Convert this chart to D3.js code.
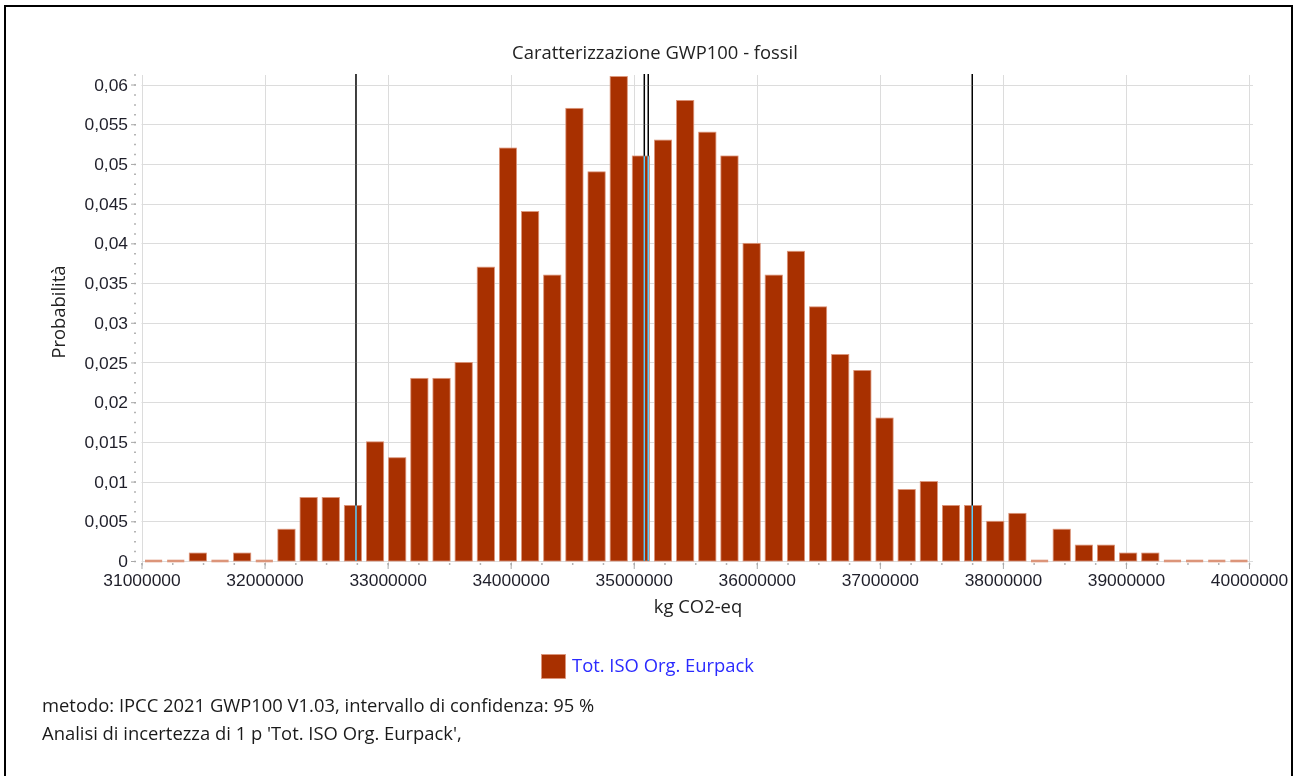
<!DOCTYPE html>
<html>
<head>
<meta charset="utf-8">
<script src="https://cdn.jsdelivr.net/npm/d3@7"></script>
<style>
  html, body { margin: 0; padding: 0; background: #fff; }
  svg { display: block; font-family: "Open Sans", "Noto Sans", sans-serif; }
  .tick text { fill: #1f1f2a; }
</style>
</head>
<body>
<svg id="chart" width="1302" height="776"></svg>
<script>
// Histogram of the Monte Carlo results: 50 classes of 180 000 kg from 31 000 000 kg
const classStart = 31000000;
const classWidth = 180000;
const probabilities = [
  0, 0, 0.001, 0, 0.001, 0, 0.004, 0.008, 0.008, 0.007,
  0.015, 0.013, 0.023, 0.023, 0.025, 0.037, 0.052, 0.044, 0.036, 0.057,
  0.049, 0.061, 0.051, 0.053, 0.058, 0.054, 0.051, 0.040, 0.036, 0.039,
  0.032, 0.026, 0.024, 0.018, 0.009, 0.010, 0.007, 0.007, 0.005, 0.006,
  0, 0.004, 0.002, 0.002, 0.001, 0.001, 0, 0, 0, 0
];
// 2.5 % bound, mean, median, 97.5 % bound
const markerValues = [32743000, 35086000, 35118000, 37751000];

const xTickValues = d3.range(31000000, 40000001, 1000000);
const xMinorValues = d3.range(31000000, 40000001, 250000);
const yTickValues = d3.range(0, 0.06001, 0.005);
const yMinorValues = d3.range(0, 0.06126, 0.00125);

const titleText = "Caratterizzazione GWP100 - fossil";
const xTitle = "kg CO2-eq";
const yTitle = "Probabilità";
const seriesName = "Tot. ISO Org. Eurpack";
const notes = [
  "metodo: IPCC 2021 GWP100 V1.03, intervallo di confidenza: 95 %",
  "Analisi di incertezza di 1 p 'Tot. ISO Org. Eurpack',"
];

const barColor = "#a83000";
const barEdge = "#dc957a";
const gridColor = "#dcdcdc";
const tickColor = "#a8a8a8";
const textSize = 18.4;

const svg = d3.select("#chart");
svg.append("rect").attr("width", 1302).attr("height", 776).attr("fill", "#fff");

// frame
svg.append("rect")
  .attr("x", 5).attr("y", 6).attr("width", 1287).attr("height", 790)
  .attr("fill", "none").attr("stroke", "#000").attr("stroke-width", 2);

const x = d3.scaleLinear().domain([31000000, 40000000]).range([141.5, 1249]);
const y = d3.scaleLinear().domain([0, 0.0612]).range([561, 75]);

const comma = d3.formatLocale({ decimal: ",", thousands: ".", grouping: [3], currency: ["", " €"] });
const yFmt = comma.format("~g");
const xFmt = d3.format("d");

// grid
const grid = svg.append("g");
grid.selectAll("line.h").data(yTickValues).join("line")
  .attr("x1", 141.5).attr("x2", 1253)
  .attr("y1", d => Math.round(y(d)) + 0.5).attr("y2", d => Math.round(y(d)) + 0.5)
  .attr("stroke", gridColor);
grid.selectAll("line.v").data(xTickValues).join("line")
  .attr("x1", d => Math.round(x(d)) + 0.5).attr("x2", d => Math.round(x(d)) + 0.5)
  .attr("y1", 75).attr("y2", 566)
  .attr("stroke", gridColor);

// minor ticks
const yMinor = svg.append("g").attr("transform", "translate(136,0)")
  .call(d3.axisLeft(y).tickValues(yMinorValues).tickSize(2).tickFormat(""));
const xMinor = svg.append("g").attr("transform", "translate(0,563)")
  .call(d3.axisBottom(x).tickValues(xMinorValues).tickSize(2).tickFormat(""));
[yMinor, xMinor].forEach(g => {
  g.select(".domain").remove();
  g.selectAll(".tick line").attr("stroke", "#b4b4b4").attr("stroke-width", 1.5);
});

// major axes
const yAxis = svg.append("g").attr("transform", "translate(136,0)")
  .call(d3.axisLeft(y).tickValues(yTickValues).tickFormat(yFmt).tickSize(5).tickPadding(3));
const xAxis = svg.append("g").attr("transform", "translate(0,563)")
  .call(d3.axisBottom(x).tickValues(xTickValues).tickFormat(xFmt).tickSize(6).tickPadding(5));
[yAxis, xAxis].forEach(g => {
  g.select(".domain").remove();
  g.selectAll(".tick line").attr("stroke", tickColor);
  g.selectAll(".tick text").attr("font-size", 17.4).attr("font-family", "Liberation Sans, Arial, sans-serif");
});

// bars
const bars = probabilities.map((p, i) => ({
  p,
  x0: classStart + i * classWidth,
  x1: classStart + (i + 1) * classWidth
}));
svg.append("g").selectAll("rect").data(bars.filter(d => d.p > 0)).join("rect")
  .attr("x", d => x(d.x0) + 3.5)
  .attr("width", d => x(d.x1) - x(d.x0) - 5)
  .attr("y", d => y(d.p))
  .attr("height", d => y(0) - y(d.p))
  .attr("fill", barColor)
  .attr("stroke", barEdge).attr("stroke-width", 0.8);
svg.append("g").selectAll("rect").data(bars.filter(d => d.p === 0)).join("rect")
  .attr("x", d => x(d.x0) + 3.5)
  .attr("width", d => x(d.x1) - x(d.x0) - 5)
  .attr("y", y(0) - 1.3)
  .attr("height", 2.6)
  .attr("fill", barEdge);

// statistic markers, drawn inverted over whatever lies beneath
svg.append("g").style("mix-blend-mode", "difference")
  .selectAll("line").data(markerValues).join("line")
  .attr("x1", d => x(d)).attr("x2", d => x(d))
  .attr("y1", 74).attr("y2", y(0))
  .attr("stroke", "#fff").attr("stroke-width", 1.5)
  .style("mix-blend-mode", "difference");

// titles
svg.append("text").attr("x", 655).attr("y", 59).attr("text-anchor", "middle")
  .attr("font-size", textSize).attr("fill", "#222").text(titleText);
svg.append("text").attr("x", 698).attr("y", 613).attr("text-anchor", "middle")
  .attr("font-size", textSize).attr("fill", "#222").text(xTitle);
svg.append("text").attr("transform", "translate(64.5,312) rotate(-90)").attr("text-anchor", "middle")
  .attr("font-size", textSize).attr("fill", "#222").text(yTitle);

// legend
svg.append("rect").attr("x", 541.5).attr("y", 654.5).attr("width", 24).attr("height", 24)
  .attr("fill", barColor).attr("stroke", barEdge).attr("stroke-width", 0.8);
svg.append("text").attr("x", 572).attr("y", 671.5).attr("font-size", textSize)
  .attr("fill", "#2a2aff").text(seriesName);

// notes
svg.append("g").selectAll("text").data(notes).join("text")
  .attr("x", 42).attr("y", (d, i) => 711.5 + i * 28)
  .attr("font-size", textSize).attr("fill", "#1a1a1a").text(d => d);
</script>
</body>
</html>
